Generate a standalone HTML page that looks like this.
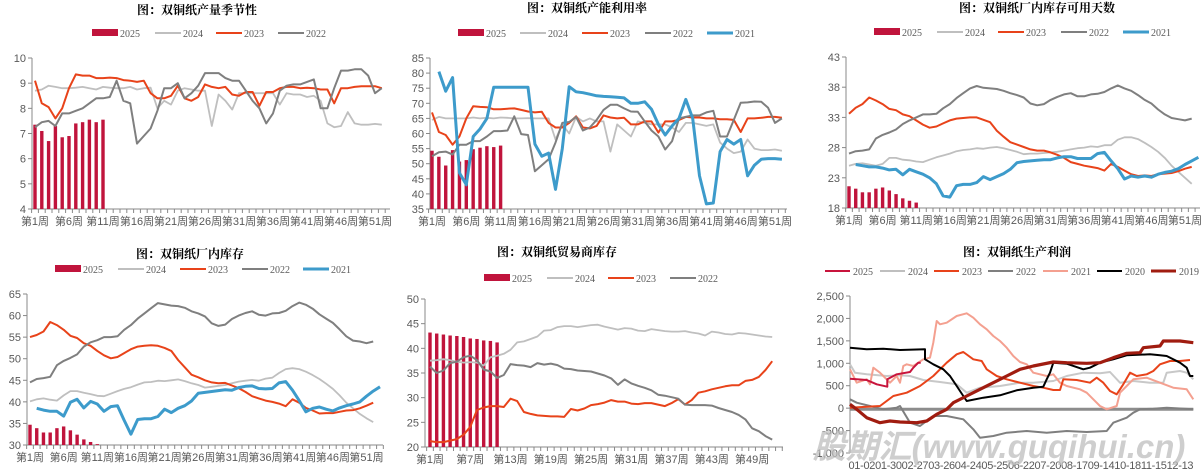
<!DOCTYPE html>
<html><head><meta charset="utf-8"><style>
body{margin:0;background:#fff;}
svg{display:block;}
.t{font-family:"Liberation Serif","Noto Serif CJK SC",serif;font-weight:bold;font-size:12px;fill:#000;}
.lg{font-family:"Liberation Serif",serif;font-size:10px;fill:#595959;}
.ax{font-family:"Liberation Sans","Noto Sans CJK SC",sans-serif;font-size:11px;fill:#595959;}
</style></head><body>
<svg id="s" width="1204" height="472" xmlns="http://www.w3.org/2000/svg"></svg>
<script>
const S=document.getElementById('s');const NS='http://www.w3.org/2000/svg';
function add(t,a,txt){const e=document.createElementNS(NS,t);for(const k in a)e.setAttribute(k,a[k]);if(txt!==undefined)e.textContent=txt;S.appendChild(e);return e;}
const C={bar:'#C0143C',y24:'#BFBFBF',y23:'#E8431A',y22:'#7F7F7F',y21:'#3D9BCB'};
function line(pts,col,w){add('polyline',{points:pts.map(p=>p[0].toFixed(1)+','+p[1].toFixed(1)).join(' '),fill:'none',stroke:col,'stroke-width':w,'stroke-linejoin':'round'});}
function panel(c){
 const yOf=v=>c.yB-(v-c.vmin)/(c.vmax-c.vmin)*(c.yB-c.yT);
 const xOf=w=>c.x0+(w-1)*c.step;
 add('text',{x:c.tx,y:c.ty,'text-anchor':'middle',class:'t'},c.title);
 c.leg.forEach(l=>{
  if(l[0]=='bar')add('rect',{x:l[1],y:c.ly-4,width:26,height:7,fill:C.bar});
  else add('line',{x1:l[1],x2:l[1]+26,y1:c.ly,y2:c.ly,stroke:l[0],'stroke-width':l[3]||2});
  add('text',{x:l[1]+28,y:c.ly+4,class:'lg'},l[2]);
 });
 add('line',{x1:c.ax,x2:c.ax,y1:c.yT,y2:c.yB,stroke:'#888','stroke-width':1});
 add('line',{x1:c.ax,x2:c.ar,y1:c.yB,y2:c.yB,stroke:'#888','stroke-width':1});
 for(let v=c.vmin;v<=c.vmax+1e-9;v+=c.vs){const y=yOf(v);add('line',{x1:c.ax-4,x2:c.ax,y1:y,y2:y,stroke:'#888'});
  add('text',{x:c.ax-6,y:y+4,'text-anchor':'end',class:'ax'},c.fmt?c.fmt(v):v);}
 if(c.nweeks)for(let w=0;w<=c.nweeks;w++){const x=c.x0+(w-0.5)*c.step;if(x<=c.ar+1)add('line',{x1:x,x2:x,y1:c.yB,y2:c.yB+4,stroke:'#888'});}
 (c.xl||[]).forEach(w=>add('text',{x:xOf(w),y:c.yB+16,'text-anchor':'middle',class:'ax'},'第'+w+'周'));
 if(c.bars)c.bars.forEach((v,i)=>{const y=yOf(v);add('rect',{x:xOf(i+1)-1.7,y:y,width:3.4,height:c.yB-y,fill:C.bar});});
 (c.series||[]).forEach(s=>line(s.d.map((v,i)=>[xOf(i+s.s),yOf(v)]),s.c,s.w));
}
const wk=[1,6,11,16,21,26,31,36,41,46,51];
panel({title:'图：双铜纸产量季节性',tx:197,ty:14,ly:33,leg:[['bar',92,'2025'],[C.y24,155,'2024'],[C.y23,216,'2023'],[C.y22,278,'2022']],
 ax:32,ar:390,yT:58,yB:209,vmin:4,vmax:10,vs:1,x0:35,step:6.8,nweeks:52,xl:wk,
 bars:[7.35,7.1,6.7,7.3,6.85,6.9,7.4,7.45,7.55,7.45,7.55],
 series:[
 {s:1,c:C.y24,w:1.8,d:[8.7,8.75,8.9,8.85,8.8,8.8,8.82,8.85,8.8,8.75,8.85,8.82,8.8,8.8,8.85,8.75,8.8,8.82,8.0,8.3,8.15,8.7,8.8,8.75,8.7,8.7,7.3,8.55,8.3,7.95,8.6,8.6,8.6,8.6,8.6,8.6,8.15,8.6,8.55,8.55,8.45,8.5,8.3,7.4,7.25,7.3,7.85,7.4,7.35,7.35,7.38,7.35]},
 {s:1,c:C.y23,w:2,d:[9.1,8.2,8.05,7.6,8.0,8.8,9.35,9.3,9.3,9.2,9.2,9.22,9.2,9.12,9.1,9.05,9.1,8.6,8.4,8.4,8.5,8.9,8.4,8.3,8.45,8.95,8.85,8.8,8.85,8.55,8.5,8.65,8.65,8.1,8.65,8.65,8.8,8.85,8.85,8.8,8.82,8.8,8.75,8.75,8.2,8.8,8.8,8.85,8.88,8.88,8.88,8.8]},
 {s:1,c:C.y22,w:2,d:[7.25,7.45,7.5,7.3,7.8,7.8,7.9,8.0,8.2,8.4,8.4,8.45,9.1,8.3,8.2,6.6,6.9,7.2,7.9,8.8,8.8,9.0,8.4,8.6,8.9,9.4,9.4,9.4,9.2,9.1,9.1,8.7,8.3,8.0,7.4,7.8,8.7,8.9,8.95,8.95,9.05,9.15,8.0,8.0,8.8,9.5,9.5,9.55,9.55,9.3,8.6,8.8]}]});
panel({title:'图：双铜纸产能利用率',tx:587,ty:12,ly:33,leg:[['bar',458,'2025'],[C.y24,520,'2024'],[C.y23,582,'2023'],[C.y22,645,'2022'],[C.y21,707,'2021',3]],
 ax:430,ar:787,yT:58,yB:209,vmin:35,vmax:85,vs:5,x0:432,step:6.86,nweeks:52,xl:wk,
 bars:[54.3,52.3,49.4,54.5,50.7,51.2,54.8,55.3,55.8,55.5,56],
 series:[
 {s:1,c:C.y24,w:1.8,d:[64.5,65.5,65,65,65,65,65.3,65,65.2,65,65.3,65.2,65,65,65.1,65,65,65,58,63,60,65.5,64,65,64,64,54,63,61,59,64,63.5,63,63,63,62,60.5,63.5,63.5,63,62.5,63,57,55,53.5,54,58,55,54.5,54.5,54.7,54.3]},
 {s:1,c:C.y23,w:2,d:[67,60.5,59.5,56.3,59,65,69,68.8,68.7,68,68,68.2,68.3,67.8,67.3,67,67.2,63.5,62,62,63.5,65.7,62,61.7,62.5,66,65.3,65,65.2,63,63,64,64,60.3,64,64,64.5,65.5,65.3,65.3,65,65,64.7,64.7,64.5,60.5,65,65,65.2,65.5,65.5,65.2]},
 {s:1,c:C.y22,w:2,d:[52.5,53.8,54,53,56.3,56.3,57.5,57.5,59,60.8,60.8,61,65.7,59.8,59.5,47.5,49.5,51.5,57,63.5,63.8,65.5,61,62,64.5,67.8,69.5,69.5,68.3,67.3,67.2,64,61,59,54.7,57.5,65,65.5,66,66,67,67.5,59,59,64.5,70.2,70.3,70.6,70.5,68.5,63.5,65]},
 {s:2,c:C.y21,w:3,d:[80.5,74,78.5,47,43,59,61.5,65,75.3,75.3,75.3,75.3,75.3,75.3,56.5,52.5,53.5,41.5,55,75.5,73.8,73.5,73,72.5,72.3,72.2,72,71.8,70,70,70.5,68,63,59.5,62.5,65,71.3,65,46,36.7,37,54,58,56.5,58,46,49.5,51.5,51.7,51.7,51.5]}]});
panel({title:'图：双铜纸厂内库存可用天数',tx:1037,ty:12,ly:32,leg:[['bar',874,'2025'],[C.y24,937,'2024'],[C.y23,998,'2023'],[C.y22,1061,'2022'],[C.y21,1123,'2021',3]],
 ax:846,ar:1200,yT:57,yB:208,vmin:18,vmax:43,vs:5,x0:849,step:6.72,nweeks:53,xl:wk,
 bars:[21.6,21.2,20.6,20.6,21.2,21.4,20.9,20.3,19.6,19.2,18.9],
 series:[
 {s:1,c:C.y24,w:1.8,d:[25,25.3,25.4,25.2,25.0,25.3,26.3,26.3,26.0,25.9,25.7,25.6,26,26.4,26.7,27.0,27.4,27.6,27.7,27.9,27.8,28,28.1,27.9,27.6,27.3,26.9,27,27,27.1,27.2,27.3,27.5,27.7,27.9,28,28.2,28.1,28.4,28.4,29.3,29.7,29.7,29.4,28.8,28.1,27.3,26.3,25,24,23,22]},
 {s:1,c:C.y23,w:2,d:[33.6,34.6,35.2,36.3,35.8,35.2,34.4,34.2,33.5,33.2,32.5,31.8,31.3,31.5,32,32.5,32.8,32.9,33,33,32.6,32.2,30.8,29.8,28.9,28.5,28.1,27.7,27.5,27.5,27.2,26.8,26.3,25.6,25.3,25,24.8,24.6,24.2,25.3,24.8,24.2,23.6,23.3,23.4,23.3,23.6,23.7,23.8,24.1,24.5,24.8]},
 {s:1,c:C.y22,w:2,d:[27,27.4,27.5,27.7,29.5,30.1,30.5,31,31.9,32.5,33,33.5,33.5,33.6,34.5,35.2,36.2,37,37.8,38.2,37.9,37.8,37.7,37.4,37,36.7,36.3,35.3,35,35.2,35.9,36.4,36.8,37,36.5,36.5,36.8,36.9,37.2,37.8,38.3,37.8,37.4,36.7,35.9,35.3,34.3,33.5,32.9,32.7,32.5,32.8]},
 {s:2,c:C.y21,w:3,d:[25.2,25,24.8,24.8,24.6,24.3,24.4,23.5,24.4,24,23.6,23,22,20,19.8,21.7,21.9,21.9,22.2,23.2,22.7,23.2,23.7,24.4,25.5,25.7,25.8,25.9,26,26,26.3,26.5,26.5,26.2,26.2,26.2,27,27.2,25.8,24.5,22.8,23.3,23.1,23.3,23.1,23.6,23.9,24.1,24.5,25.2,25.8,26.4]}]});
panel({title:'图：双铜纸厂内库存',tx:190,ty:258,ly:269,leg:[['bar',55,'2025'],[C.y24,118,'2024'],[C.y23,180,'2023'],[C.y22,242,'2022'],[C.y21,303,'2021',3]],
 ax:27,ar:383,yT:294,yB:445,vmin:30,vmax:65,vs:5,x0:30,step:6.73,nweeks:53,xl:wk,
 bars:[34.7,33.9,32.9,32.9,33.9,34.3,33.4,32.4,31.3,30.7,30.2],
 series:[
 {s:1,c:C.y24,w:1.8,d:[40.1,40.6,40.8,40.5,40.3,41.5,42.5,42.5,42.1,41.8,41.4,41.3,41.9,42.5,43,43.4,44,44.5,44.6,44.9,44.8,45,45.2,44.8,44.3,43.9,43.3,43.5,43.7,43.9,44.3,44.7,44.9,45.1,44.9,45.4,45.6,46.7,47.6,47.8,47.6,47,46.2,45.3,44.2,43,41.5,39.8,38.5,37.2,36.2,35.3]},
 {s:1,c:C.y23,w:2,d:[55,55.5,56.3,58.5,57.8,56.7,55.3,54.8,53.6,53,51.8,50.8,50.1,50.4,51.3,52.2,52.8,53,53.1,53,52.5,51.8,49.7,48,46.3,45.7,45,44.5,44.3,44.4,43.8,43.2,42.3,41.3,40.8,40.3,40,39.6,39,40.6,39.8,38.6,38,37.3,37.4,37.4,37.7,38,38.1,38.5,39.1,39.8]},
 {s:1,c:C.y22,w:2,d:[44.5,45.3,45.5,45.8,48.5,49.5,50.2,51,52.8,53.8,54.3,55,55,55.2,56.7,57.8,59.3,60.5,61.7,62.9,62.6,62.3,62.2,61.8,61,60.5,59.8,58.2,57.6,57.9,59.2,60,60.6,61,60.2,60,60.5,60.6,61.1,62.2,63,62.5,61.6,60.3,59.3,58.3,56.8,55.2,54.2,54,53.6,54]},
 {s:2,c:C.y21,w:3,d:[38.5,38.1,37.8,37.8,36.7,39.9,40.6,38.6,40.1,39.5,37.8,38.9,39.1,35.7,32.5,35.9,36.1,36.1,36.6,38.3,37.5,38.5,39.1,40.2,42,42.2,42.4,42.6,42.8,42.7,43.3,43.6,43.7,43.1,43,43.1,44.4,44.7,42.7,40.3,37.7,38.5,38.8,38.3,37.9,38.6,39.1,39.5,40,41.3,42.5,43.5]}]});
panel({title:'图：双铜纸贸易商库存',tx:557,ty:256,ly:278,leg:[['bar',484,'2025'],[C.y24,547,'2024'],[C.y23,608,'2023'],[C.y22,670,'2022']],
 ax:425,ar:783,yT:299,yB:447,vmin:20,vmax:50,vs:5,x0:430,step:6.71,nweeks:53,xl:[1,7,13,19,25,31,37,43,49],
 bars:[43.2,43,42.8,42.6,42.5,42.3,42,41.9,41.6,41.5,41.2],
 series:[
 {s:1,c:C.y24,w:1.8,d:[37.5,37.6,37.8,37.6,37.3,37.1,37.2,37.1,36.5,38.2,38.5,38.9,39.7,41.2,41.4,41.9,42.4,43.6,43.7,44.3,44.5,44.5,44.3,44.5,44.7,44.8,44.4,44.1,43.8,44.1,44,43.6,43.5,43.9,43.7,43.5,43.4,43.4,43.5,43.2,43,42.6,43.4,43.2,42.9,42.8,43.1,43,42.8,42.6,42.4,42.3]},
 {s:1,c:C.y23,w:2,d:[21.2,21,21,21.3,21.6,22.5,24.1,27.5,28,28.3,28.3,28.1,29.8,29.3,27.1,26.7,26.4,26.3,26.2,26.2,26.1,27.7,27.4,27.8,28.5,28.7,29,29.5,29.2,29.2,28.8,28.7,28.9,28.9,28.6,28.3,28.9,29.7,28.6,29.5,31,31.3,31.7,32,32.3,32.5,32.5,33.4,33.6,34.2,35.6,37.4]},
 {s:1,c:C.y22,w:2,d:[36.3,35,35.5,37,37.3,38.2,38.5,37.6,35.7,35.3,34,34.6,36.8,36.6,36.5,36.2,37,36.7,36.9,36.6,35.9,35.8,35.5,35.4,35.3,34.9,34.5,33.9,32.6,33.7,32.9,32.4,32,31.5,30.6,30.4,30.1,29.8,28.6,28.5,28.5,28.5,28.4,27.9,27.5,27.1,26.5,25.6,23.8,23.2,22.2,21.5]}]});
(function(){
 const P=a=>a.map(p=>[800+p[0]/3,236+p[1]/3]);
 add('text',{x:1017,y:256,'text-anchor':'middle',class:'t'},'图：双铜纸生产利润');
 const lg=[['#C8143C',825,'2025',2],['#BFBFBF',880,'2024',2],[C.y23,934,'2023',2],[C.y22,988,'2022',2],['#F4A090',1043,'2021',2],['#000',1097,'2020',2],['#A01C10',1151,'2019',3]];
 lg.forEach(l=>{add('line',{x1:l[1],x2:l[1]+25,y1:271,y2:271,stroke:l[0],'stroke-width':l[3]});add('text',{x:l[1]+28,y:275,class:'lg'},l[2]);});
 const yOf=v=>296+(2500-v)/3500*157;
 add('line',{x1:850,x2:850,y1:296,y2:453,stroke:'#888'});
 for(let v=-1000;v<=2500;v+=500){const y=yOf(v);add('line',{x1:846,x2:850,y1:y,y2:y,stroke:'#888'});
  add('text',{x:844,y:y+4,'text-anchor':'end',class:'ax'},v.toLocaleString('en-US'));}
 add('text',{x:1021,y:469,'text-anchor':'middle',class:'ax',textLength:'345'},'01-0201-3002-2703-2604-2405-2506-2207-2008-1709-1410-1811-1512-13');
 line(P([[150,520],[1180,520]]),'#8C8C8C',3);
 line(P([[150,490],[170,500],[210,510],[250,520],[290,515],[300,510],[330,560],[360,570],[400,540],[440,540],[490,550],[520,580],[540,605],[580,600],[620,590],[680,585],[740,590],[800,585],[860,588],[920,585],[940,560],[980,545],[1000,530],[1020,520],[1060,518],[1100,515],[1180,520]]),C.y22,2);
 line(P([[150,385],[165,410],[200,415],[260,420],[300,418],[330,420],[370,432],[420,438],[470,445],[500,470],[540,455],[600,450],[660,440],[700,440],[760,435],[800,420],[850,410],[900,412],[930,408],[960,440],[1000,435],[1050,440],[1090,440],[1100,410],[1140,405],[1160,410],[1180,430]]),'#C8C8C8',2);
 line(P([[150,400],[170,440],[200,430],[210,445],[220,395],[240,410],[270,440],[290,420],[300,440],[310,390],[320,385],[340,390],[370,370],[390,365],[400,320],[410,255],[420,265],[440,260],[470,240],[500,232],[520,245],[540,265],[560,280],[580,300],[600,315],[620,335],[640,360],[660,378],[680,385],[700,410],[740,420],[760,415],[780,440],[800,450],[840,460],[860,470],[880,490],[900,510],[920,520],[950,510],[960,470],[980,450],[1000,430],[1040,425],[1080,440],[1120,455],[1160,460],[1180,490]]),'#F4A090',2);
 line(P([[150,515],[200,512],[240,510],[280,480],[320,470],[360,450],[400,420],[440,380],[470,355],[490,348],[520,370],[545,375],[560,400],[590,420],[620,430],[660,440],[700,450],[730,455],[760,462],[780,462],[790,430],[830,432],[870,440],[890,425],[910,440],[930,465],[950,475],[970,445],[990,410],[1010,420],[1040,415],[1060,405],[1080,385],[1110,375],[1140,375],[1170,372]]),C.y23,2);
 line(P([[150,335],[200,340],[250,338],[300,342],[375,340],[375,370],[400,385],[430,400],[450,420],[470,450],[490,480],[500,495],[550,485],[600,478],[650,463],[700,455],[730,452],[740,430],[750,410],[760,380],[800,383],[850,400],[870,395],[900,380],[940,370],[980,358],[1050,355],[1080,358],[1100,360],[1140,380],[1160,395],[1170,420],[1180,420]]),'#000',2);
 line(P([[150,505],[170,520],[200,545],[240,560],[270,555],[300,558],[350,560],[380,555],[410,535],[440,520],[460,500],[500,480],[540,460],[580,440],[620,420],[660,400],[700,390],[760,378],[800,380],[860,382],[900,380],[940,365],[980,352],[1020,350],[1030,335],[1080,330],[1090,315],[1140,315],[1180,320]]),'#A01C10',3.2);
 line(P([[150,428],[200,432],[230,445],[262,452],[262,430],[290,415],[330,408],[340,395],[355,380],[362,380]]),'#C8143C',2);
 add('text',{x:999,y:458,'text-anchor':'middle','font-family':'"Liberation Sans","Noto Sans CJK SC",sans-serif','font-size':'33','font-weight':'bold','font-style':'italic',fill:'#bdbdbd','fill-opacity':'0.75'},'股期汇(www.guqihui.cn)');
})();
</script>
</body></html>
